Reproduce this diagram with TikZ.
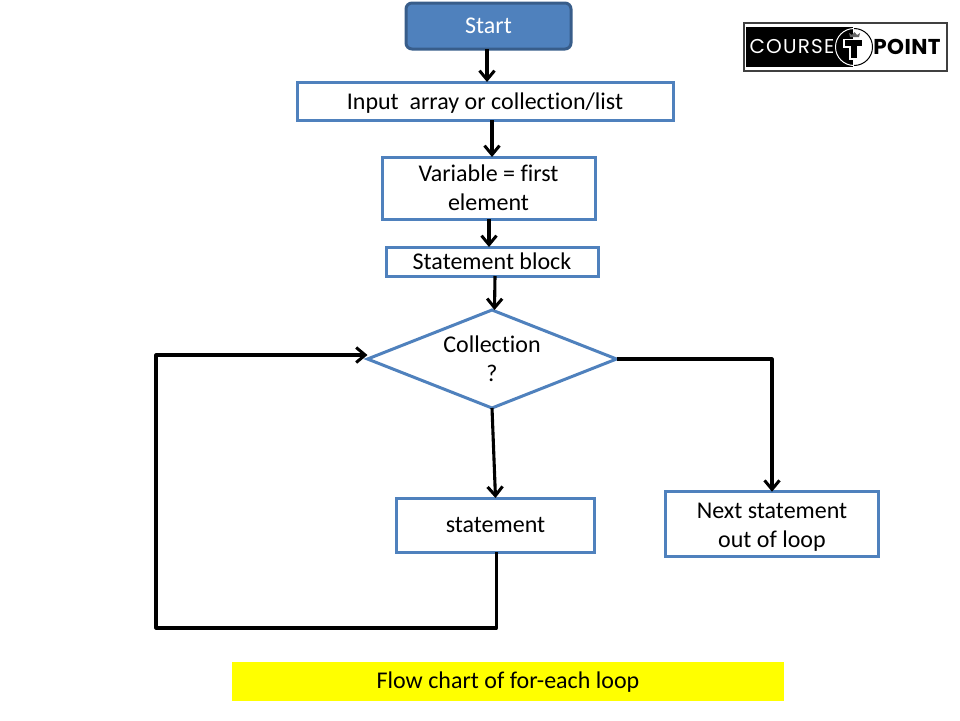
\documentclass[tikz,border=0pt]{standalone}
\usepackage{xcolor}
\usepackage{fontspec}
\setmainfont[Ligatures=CommonOff]{Carlito}
\newfontfamily\logofont[LetterSpace=6]{Poppins}
\newfontfamily\logobold[LetterSpace=2]{Poppins}
\usetikzlibrary{shapes.geometric,arrows.meta,positioning}
\definecolor{accent}{HTML}{4F81BD}
\definecolor{accentdark}{HTML}{385D8A}
\definecolor{capt}{HTML}{FFFF00}

\begin{document}
\begin{tikzpicture}[
    x=1pt,y=-1pt,
    every node/.style={inner sep=0pt,outer sep=0pt},
    box/.style={draw=accent,line width=3pt,fill=white,align=center,font=\fontsize{24}{29}\selectfont},
    startbox/.style={box,fill=accent,draw=accentdark,rounded corners=6pt,text=white,minimum width=165pt,minimum height=46pt},
    decision/.style={diamond,draw=accent,line width=3pt,fill=white,align=center,minimum width=249pt,minimum height=98pt,aspect=2.54,font=\fontsize{24}{29}\selectfont},
    arrow/.style={-{Straight Barb[length=9pt,width=15pt,line width=3pt]},line width=3.1pt,line join=round}
  ]
    \useasboundingbox (0,0) rectangle (960,720);
    \node[startbox] (start) at (488.5,26) {Start};
    \node[box,minimum width=376pt,minimum height=38pt,below=33pt of start,xshift=-3.5pt] (input) {\rule{0pt}{20.5pt}Input\ \ array or collection/list};
    \node[box,minimum width=213pt,minimum height=62pt,below=37pt of input,xshift=3.5pt] (var) {Variable = first\\element};
    \node[box,minimum width=212pt,minimum height=29pt,below=28pt of var,xshift=3.5pt] (block) {Statement block};
    \node[decision,below=34pt of block] (coll) {Collection\\?};
    \node[box,minimum width=198pt,minimum height=54pt,below=90pt of coll,xshift=3.5pt] (stmt) {statement};
    \node[box,minimum width=213pt,minimum height=65pt,right=71pt of stmt,yshift=.8pt] (next) {\rule{0pt}{21.5pt}Next statement\\out of loop};
    \node[fill=capt,minimum width=552pt,minimum height=39pt,font=\fontsize{24}{26}\selectfont] (caption) at (508,681.5) {\rule{0pt}{18pt}Flow chart of for-each loop};
    % logo
    \node[draw=black!75,line width=1.6pt,fill=white,minimum width=203pt,minimum height=48pt] (logo) at (845.5,47) {};
    \node[fill=black,minimum width=107pt,minimum height=40pt] (logoleft) at (799.5,47) {};
    \node[text=white,font=\fontsize{20}{20}\logofont] (course) at (792,47) {COURSE};
    \node[font=\fontsize{21.5}{21.5}\logobold\bfseries] (point) at (907,47) {POINT};
    \draw[white,line width=1pt] (854,28.5) arc (-90:-270:18.5);
    \draw[black,line width=1pt] (854,65.5) arc (90:-90:18.5);
    \fill[black!60] (849,33) -- (850,37) -- (859,37) -- (860,33) -- (857,35) -- (854.5,32) -- (852,35) -- cycle;
    \draw[white,line width=1.6pt,fill=black] (844,39.5) -- (863,39.5) -- (863,47) -- (858,47) -- (858,59) -- (850,59) -- (850,47) -- (844,47) -- cycle;
    % connectors
    \draw[arrow] ([xshift=-1.5pt]start.south) -- ([xshift=-1.5pt]input.north -| start.south);
    \draw[arrow] ([xshift=7pt]input.south) -- ([xshift=3.5pt]var.north);
    \draw[arrow] ([xshift=.5pt]var.south) -- ([xshift=-3pt]block.north);
    \draw[arrow] ([xshift=3pt]block.south) -- ([xshift=2.5pt]coll.north);
    \draw[arrow] (coll.south) -- (stmt.north);
    \draw[arrow] (coll.east) -| (next.north);
    \coordinate (loopleft) at (156,355);
    \draw[arrow] ([xshift=1pt]stmt.south) |- (156,628) -- (loopleft) -- (loopleft -| coll.west);
\end{tikzpicture}
\end{document}
